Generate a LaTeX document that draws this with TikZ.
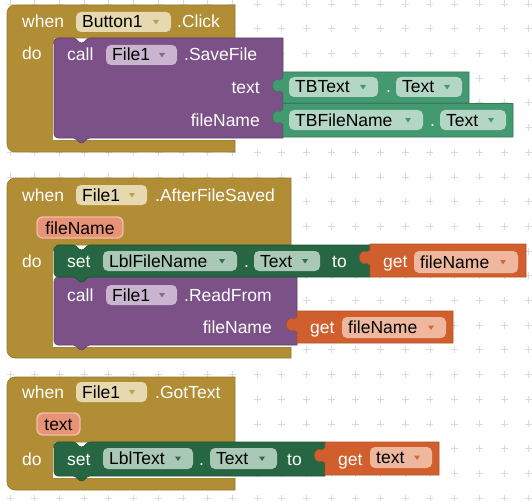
\documentclass[tikz,border=0pt]{standalone}
\usepackage{fontspec}
\setmainfont{Liberation Sans}
\definecolor{mus}{HTML}{B18E35}
\definecolor{musdd}{HTML}{E6D8AF}
\definecolor{mustri}{HTML}{BE9E52}
\definecolor{purp}{HTML}{7B5187}
\definecolor{purpdd}{HTML}{CAB5D0}
\definecolor{purptri}{HTML}{8A6795}
\definecolor{setg}{HTML}{266643}
\definecolor{setdd}{HTML}{A9C8B5}
\definecolor{settri}{HTML}{2E6E4C}
\definecolor{getg}{HTML}{439970}
\definecolor{getdd}{HTML}{B3D6C5}
\definecolor{gettri}{HTML}{439970}
\definecolor{orng}{HTML}{D05F2D}
\definecolor{orndd}{HTML}{EFB89E}
\definecolor{orntri}{HTML}{D06A3A}
\definecolor{parfill}{HTML}{E89276}
\definecolor{parline}{HTML}{F2BCA5}
\definecolor{gridgray}{HTML}{DADADA}
\tikzset{
  lbl/.style={font=\fontsize{17.5}{20}\selectfont, inner sep=0pt, text=white},
  dtx/.style={lbl, text=black},
  gridc/.style={draw=gridgray, line width=0.8pt},
  evst/.style={fill=mus, draw=mus!85!black, line width=0.6pt},
  purst/.style={fill=purp, draw=purp!80!black, line width=0.6pt},
  setst/.style={fill=setg, draw=setg!80!black, line width=0.6pt},
  getst/.style={fill=getg, draw=getg!80!black, line width=0.6pt},
  orst/.style={fill=orng, draw=orng!85!black, line width=0.6pt},
  parst/.style={fill=parfill, draw=parline, line width=1.4pt, rounded corners=6pt},
}
% event block: L T R Tin Bin B
\newcommand\evblk[6]{%
  \filldraw[evst] (#3,#2) -- ({#1+8},#2) .. controls ({#1+3.6},#2) and (#1,{#2+3.6}) .. (#1,{#2+8})
    -- (#1,{#6-8}) .. controls (#1,{#6-3.6}) and ({#1+3.6},#6) .. ({#1+8},#6)
    -- (#3,#6) -- (#3,#5) -- (54,#5) -- (54,#4) -- (#3,#4) -- cycle;
  \draw[white, line width=1.6pt] (54,{#4+6}) -- (54,{#5-1}) -- ({#3-0.5},{#5-1});
}
% statement block: L T R B style
\newcommand\stblk[5]{%
  \filldraw[#5] (#1,{#2+4}) .. controls (#1,{#2+1.8}) and ({#1+1.8},#2) .. ({#1+4},#2)
    -- ({#1+19},#2) .. controls ({#1+23},#2) and ({#1+24},{#2+5}) .. ({#1+27.5},{#2+5})
    .. controls ({#1+31},{#2+5}) and ({#1+32},#2) .. ({#1+36},#2)
    -- (#3,#2) -- (#3,#4)
    -- ({#1+36},#4) .. controls ({#1+32},#4) and ({#1+31},{#4+5}) .. ({#1+27.5},{#4+5})
    .. controls ({#1+24},{#4+5}) and ({#1+23},#4) .. ({#1+19},#4)
    -- ({#1+4},#4) .. controls ({#1+1.8},#4) and (#1,{#4-1.8}) .. (#1,{#4-4}) -- cycle;
}
% value block: L T R B style
\newcommand\vblk[5]{%
  \filldraw[#5] (#1,#2) -- (#3,#2) -- (#3,#4) -- (#1,#4) -- (#1,{#2+21})
    -- ({#1-3},{#2+19})
    .. controls ({#1-13},{#2+23}) and ({#1-13},{#2+4}) .. ({#1-3},{#2+8})
    -- (#1,{#2+6}) -- cycle;
}
% dropdown: name x1 y1 x2 y2 text fill tri
\newcommand\ddn[8]{%
  \fill[#7, rounded corners=5pt] (#2,#3) rectangle (#4,#5);
  \node[dtx, anchor=base west] (#1) at ({#2+6},{(#3+#5)/2+6}) {#6};
  \fill[#8] ({#4-18},{(#3+#5)/2-2}) -- ({#4-12},{(#3+#5)/2-2}) -- ({#4-15},{(#3+#5)/2+2.5}) -- cycle;
}
\begin{document}
\begin{tikzpicture}[x=1pt, y=-1pt]
\fill[white] (0,0) rectangle (532,500);
\useasboundingbox (0,0) rectangle (532,500);
% background grid
\foreach \i in {0,...,21}{\foreach \j in {0,...,20}{%
  \draw[gridc] ({10+24.7*\i-3.5},{4+24.7*\j}) -- ++(7,0)
               ({10+24.7*\i},{4+24.7*\j-3.5}) -- ++(0,7);}}

% ---------- Block 1: when Button1.Click ----------
\evblk{7}{5}{235}{38}{140}{152}
\node[lbl, anchor=base west] (w1) at (22,28) {when};
\ddn{b1}{76}{12}{171}{32}{Button1}{musdd}{mustri}
\node[lbl, anchor=base west] (click) at (177,28) {.Click};
\node[lbl, anchor=base west] (do1) at (22,60) {do};
\stblk{54}{38}{283}{138}{purst}
\node[lbl, anchor=base west] (call1) at (67,61) {call};
\ddn{f1a}{106}{45}{177}{65}{File1}{purpdd}{purptri}
\node[lbl, anchor=base west] (save) at (184,61) {.SaveFile};
\node[lbl, anchor=base east] (txtlbl) at (260,93.5) {text};
\node[lbl, anchor=base east] (fnlbl) at (260,126) {fileName};
\vblk{283}{72}{469}{103}{getst}
\ddn{tbt}{289}{77}{378}{97}{TBText}{getdd}{gettri}
\node[lbl, anchor=base west] (dot1) at (386,93) {.};
\ddn{tbtt}{396}{77}{462}{97}{Text}{getdd}{gettri}
\vblk{283}{103.5}{513}{137}{getst}
\ddn{tbf}{289}{110}{423}{130}{TBFileName}{getdd}{gettri}
\node[lbl, anchor=base west] (dot2) at (430,126) {.};
\ddn{tbft}{440}{110}{506}{130}{Text}{getdd}{gettri}

% ---------- Block 2: when File1.AfterFileSaved ----------
\evblk{7}{178}{291}{245}{347}{358}
\node[lbl, anchor=base west] (w2) at (22,201) {when};
\ddn{f1b}{76}{185}{147}{205}{File1}{musdd}{mustri}
\node[lbl, anchor=base west] (afs) at (155,201) {.AfterFileSaved};
\filldraw[parst] (37,217) rectangle (123,238);
\node[dtx, anchor=base] (par1) at (80,234) {fileName};
\node[lbl, anchor=base west] (do2) at (22,267) {do};
\stblk{54}{277}{297}{345}{purst}
\stblk{54}{245}{370}{277}{setst}
\node[lbl, anchor=base west] (set2) at (67,267) {set};
\ddn{lfn}{103}{251}{237}{271}{LblFileName}{setdd}{settri}
\node[lbl, anchor=base west] (dot3) at (244,267) {.};
\ddn{lfnt}{254}{251}{320}{271}{Text}{setdd}{settri}
\node[lbl, anchor=base west] (to2) at (332,267) {to};
\vblk{370}{244}{526}{277}{orst}
\node[lbl, anchor=base west] (get1) at (383,267) {get};
\ddn{gfn1}{414}{251}{518}{273}{fileName}{orndd}{orntri}
\node[lbl, anchor=base west] (call2) at (67,301) {call};
\ddn{f1c}{106}{285}{177}{305}{File1}{purpdd}{purptri}
\node[lbl, anchor=base west] (rf) at (184,301) {.ReadFrom};
\node[lbl, anchor=base east] (fnlbl2) at (272,333) {fileName};
\vblk{297}{311}{453}{343}{orst}
\node[lbl, anchor=base west] (get2) at (310,333) {get};
\ddn{gfn2}{342}{317}{446}{338}{fileName}{orndd}{orntri}

% ---------- Block 3: when File1.GotText ----------
\evblk{7}{377}{235}{442}{478}{490}
\node[lbl, anchor=base west] (w3) at (22,398) {when};
\ddn{f1d}{76}{382}{147}{402}{File1}{musdd}{mustri}
\node[lbl, anchor=base west] (gt) at (155,398) {.GotText};
\filldraw[parst] (37,413) rectangle (80,435);
\node[dtx, anchor=base] (par2) at (58.5,430) {text};
\node[lbl, anchor=base west] (do3) at (22,465) {do};
\stblk{54}{442}{325}{476}{setst}
\node[lbl, anchor=base west] (set3) at (67,465) {set};
\ddn{lt}{103}{448}{193}{469}{LblText}{setdd}{settri}
\node[lbl, anchor=base west] (dot4) at (199,465) {.};
\ddn{ltt}{210}{448}{277}{469}{Text}{setdd}{settri}
\node[lbl, anchor=base west] (to3) at (287,465) {to};
\vblk{325}{442}{439}{475}{orst}
\node[lbl, anchor=base west] (get3) at (338,465) {get};
\ddn{gt3}{370}{447}{432}{468}{text}{orndd}{orntri}
\end{tikzpicture}
\end{document}
